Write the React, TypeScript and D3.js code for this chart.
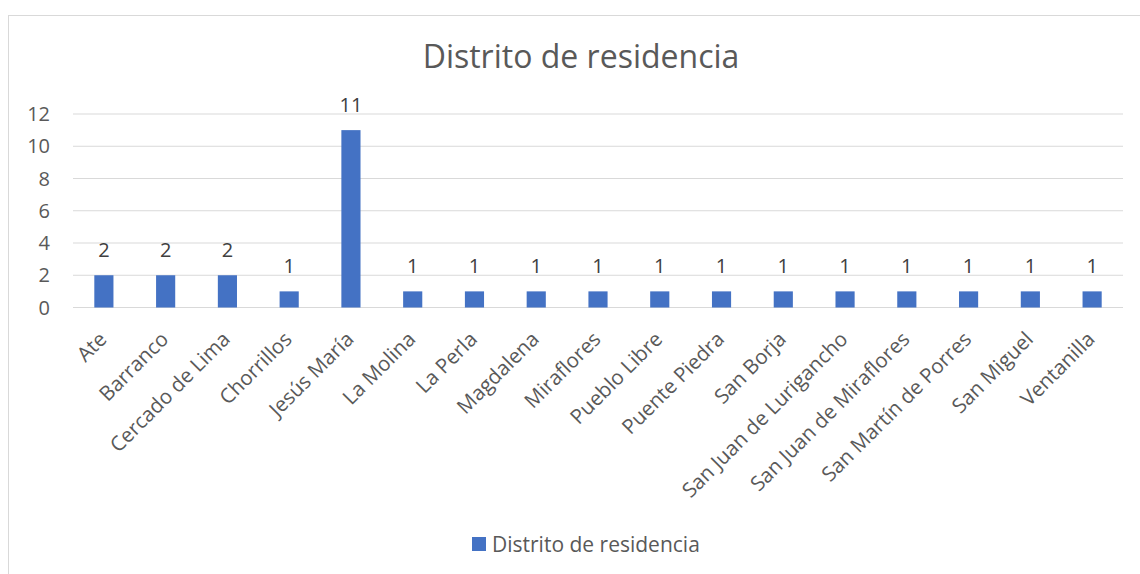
import React, { useEffect, useRef } from 'react'
import * as d3 from 'd3'

const categories: string[] = [
  'Ate', 'Barranco', 'Cercado de Lima', 'Chorrillos', 'Jesús María', 'La Molina',
  'La Perla', 'Magdalena', 'Miraflores', 'Pueblo Libre', 'Puente Piedra', 'San Borja',
  'San Juan de Lurigancho', 'San Juan de Miraflores', 'San Martín de Porres',
  'San Miguel', 'Ventanilla',
]
const values: number[] = [2, 2, 2, 1, 11, 1, 1, 1, 1, 1, 1, 1, 1, 1, 1, 1, 1]
const yTicks: number[] = [0, 2, 4, 6, 8, 10, 12]
const seriesName = 'Distrito de residencia'
const chartTitle = 'Distrito de residencia'

const FONT = '"Open Sans", "Noto Sans", sans-serif'

function App() {
  const svgRef = useRef<SVGSVGElement>(null)

  useEffect(() => {
    const width = 1140
    const height = 574
    const left = 73, right = 1123, top = 114, bottom = 307.5

    const svg = d3.select(svgRef.current)
    svg.selectAll('*').remove()
    svg.attr('width', width).attr('height', height)

    // chart frame
    svg.append('rect')
      .attr('x', 8.5).attr('y', 15.5)
      .attr('width', 1160).attr('height', 620)
      .attr('fill', '#fff').attr('stroke', '#d9d9d9')

    const x = d3.scaleBand<string>()
      .domain(categories)
      .range([left, right])
      .paddingInner(0.69)
      .paddingOuter(0.345)

    const y = d3.scaleLinear().domain([0, 12]).range([bottom, top])

    // gridlines
    svg.append('g').selectAll('line')
      .data(yTicks)
      .join('line')
      .attr('x1', left).attr('x2', right)
      .attr('y1', d => y(d)).attr('y2', d => y(d))
      .attr('stroke', '#d9d9d9').attr('stroke-width', 1.2)

    // y labels
    svg.append('g').selectAll('text')
      .data(yTicks)
      .join('text')
      .attr('x', 50).attr('y', d => y(d))
      .attr('dy', '0.36em')
      .attr('text-anchor', 'end')
      .style('font-family', FONT).style('font-size', '20px')
      .attr('fill', '#595959')
      .text(d => d)

    // bars
    svg.append('g').selectAll('rect')
      .data(values)
      .join('rect')
      .attr('x', (d, i) => x(categories[i])!)
      .attr('y', d => y(d))
      .attr('width', x.bandwidth())
      .attr('height', d => bottom - y(d))
      .attr('fill', '#4472c4')

    // value labels
    svg.append('g').selectAll('text')
      .data(values)
      .join('text')
      .attr('x', (d, i) => x(categories[i])! + x.bandwidth() / 2)
      .attr('y', d => y(d) - 18)
      .attr('text-anchor', 'middle')
      .style('font-family', FONT).style('font-size', '20px')
      .attr('fill', '#404040')
      .text(d => d)

    // category labels
    svg.append('g').selectAll('text')
      .data(categories)
      .join('text')
      .attr('transform', d => `translate(${x(d)! + x.bandwidth() / 2 + 4},${bottom + 33}) rotate(-45)`)
      .attr('text-anchor', 'end')
      .style('font-family', FONT).style('font-size', '20.5px')
      .attr('fill', '#595959')
      .text(d => d)

    // title
    svg.append('text')
      .attr('x', 581).attr('y', 68)
      .attr('text-anchor', 'middle')
      .style('font-family', FONT).style('font-size', '32px')
      .attr('fill', '#595959')
      .text(chartTitle)

    // legend
    const legend = svg.append('g')
    legend.append('rect')
      .attr('x', 472).attr('y', 537).attr('width', 14).attr('height', 14)
      .attr('fill', '#4472c4')
    legend.append('text')
      .attr('x', 492).attr('y', 552)
      .style('font-family', FONT).style('font-size', '21px')
      .attr('fill', '#595959')
      .text(seriesName)
  }, [])

  return (
    <svg ref={svgRef} style={{ position: 'absolute', left: 0, top: 0 }}></svg>
  )
}

export default App
